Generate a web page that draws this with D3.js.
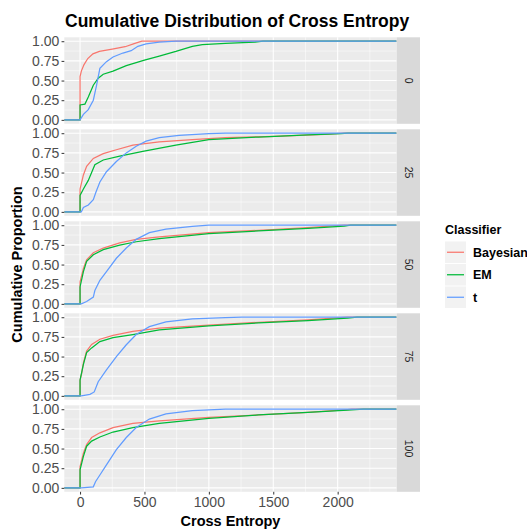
<!DOCTYPE html>
<meta charset="utf-8"/>
<head>
<style>
  body { margin:0; background:#fff; }
  text { font-family: "Liberation Sans", Arial, sans-serif; }
</style>
<script src="https://d3js.org/d3.v7.min.js" charset="utf-8"></script>
</head>
<body>
<script>

// facets (noise level) and classifiers
var facets = ["0", "25", "50", "75", "100"];
var classifiers = ["Bayesian", "EM", "t"];
var colors = ["#F8766D", "#00BA38", "#619CFF"];
var xTicks = [0, 500, 1000, 1500, 2000];
var yTicks = [0, 0.25, 0.5, 0.75, 1];
var xRange = [-5, 2341]; // data range of cross entropy

// ECDF curves, one list of [x, p] per facet
var bayesianCurves = [
  [[0,0],[0,0.55],[10,0.62],[30,0.7],[60,0.78],[100,0.84],[150,0.87],[250,0.9],[350,0.93],[420,0.97],[480,1]],
  [[0,0],[0,0.29],[26,0.47],[51,0.58],[103,0.68],[180,0.74],[282,0.79],[410,0.85],[615,0.89],[872,0.92],[1128,0.944],[1513,0.96],[1897,0.987],[2051,1]],
  [[0,0],[0,0.28],[26,0.45],[51,0.56],[103,0.65],[180,0.71],[308,0.776],[436,0.82],[615,0.853],[1000,0.905],[1385,0.935],[1769,0.97],[2051,1]],
  [[0,0],[0,0.2],[13,0.29],[26,0.42],[51,0.57],[90,0.655],[154,0.72],[256,0.77],[410,0.82],[615,0.86],[1000,0.9],[1385,0.935],[1769,0.966],[2077,1]],
  [[0,0],[0,0.27],[26,0.44],[51,0.55],[90,0.64],[154,0.7],[256,0.767],[410,0.82],[615,0.853],[1000,0.897],[1385,0.927],[1769,0.96],[2077,0.996],[2110,1]]
];
var emCurves = [
  [[0,0],[0,0.19],[38,0.2],[64,0.29],[103,0.44],[141,0.53],[180,0.58],[256,0.62],[359,0.69],[500,0.76],[615,0.81],[744,0.87],[872,0.935],[949,0.957],[1128,0.974],[1359,0.99],[1420,1]],
  [[0,0],[0,0.21],[26,0.29],[64,0.4],[115,0.6],[180,0.66],[308,0.71],[487,0.77],[744,0.85],[1000,0.92],[1385,0.952],[1769,0.978],[2026,0.996],[2080,1]],
  [[0,0],[0,0.215],[26,0.41],[51,0.54],[103,0.625],[180,0.69],[308,0.746],[436,0.79],[615,0.83],[1000,0.892],[1385,0.927],[1769,0.96],[2051,0.99],[2100,1]],
  [[0,0],[0,0.2],[26,0.4],[51,0.55],[90,0.61],[154,0.69],[256,0.74],[410,0.78],[615,0.84],[1000,0.89],[1385,0.927],[1769,0.957],[2077,0.99],[2150,1]],
  [[0,0],[0,0.23],[26,0.4],[51,0.53],[90,0.595],[154,0.647],[256,0.71],[410,0.767],[615,0.82],[1000,0.884],[1385,0.927],[1769,0.96],[2077,0.99],[2200,1]]
];
var tCurves = [
  [[0,0],[26,0.07],[64,0.13],[103,0.25],[128,0.44],[154,0.655],[205,0.74],[256,0.8],[333,0.85],[397,0.88],[449,0.935],[513,0.965],[615,0.99],[744,1]],
  [[10,0],[26,0.056],[64,0.087],[103,0.156],[123,0.25],[154,0.38],[205,0.51],[282,0.64],[359,0.75],[436,0.835],[513,0.9],[615,0.944],[769,0.974],[1000,0.996],[1128,1]],
  [[10,0],[51,0.03],[103,0.086],[115,0.17],[154,0.3],[205,0.41],[282,0.58],[359,0.71],[436,0.82],[538,0.905],[667,0.95],[872,0.987],[1000,1]],
  [[10,0],[77,0.02],[110,0.05],[141,0.18],[205,0.33],[282,0.5],[359,0.65],[436,0.78],[538,0.88],[667,0.94],[872,0.98],[1128,0.996],[1256,1]],
  [[10,0],[103,0.013],[120,0.078],[154,0.164],[205,0.293],[282,0.487],[359,0.64],[436,0.767],[538,0.875],[667,0.94],[872,0.983],[1128,1]]
];
var allCurves = [bayesianCurves, emCurves, tCurves];

var width = 527, height = 530;
var left = 64.3, right = 396.7, stripW = 23.3;
var top0 = 37.3, panelH = 86.5, gap = 5.5;

var svg = d3.select("body").append("svg")
  .attr("width", width)
  .attr("height", height);

var span = xRange[1] - xRange[0];
var x = d3.scaleLinear()
  .domain([xRange[0] - 0.05 * span, xRange[1] + 0.05 * span])
  .range([left, right]);

var line = d3.line()
  .x(function(d) { return x(d[0]); });

facets.forEach(function(f, i) {
  var top = top0 + i * (panelH + gap);
  var y = d3.scaleLinear().domain([-0.05, 1.05]).range([top + panelH, top]);
  line.y(function(d) { return y(d[1]); });

  var g = svg.append("g");
  g.append("rect")
    .attr("x", left).attr("y", top)
    .attr("width", right - left).attr("height", panelH)
    .attr("fill", "#EBEBEB");

  // minor grid
  [0.125, 0.375, 0.625, 0.875].forEach(function(v) {
    g.append("line").attr("x1", left).attr("x2", right)
      .attr("y1", y(v)).attr("y2", y(v))
      .attr("stroke", "#fff").attr("stroke-width", 0.53);
  });
  [250, 750, 1250, 1750, 2250].forEach(function(v) {
    g.append("line").attr("y1", top).attr("y2", top + panelH)
      .attr("x1", x(v)).attr("x2", x(v))
      .attr("stroke", "#fff").attr("stroke-width", 0.53);
  });
  // major grid
  yTicks.forEach(function(v) {
    g.append("line").attr("x1", left).attr("x2", right)
      .attr("y1", y(v)).attr("y2", y(v))
      .attr("stroke", "#fff").attr("stroke-width", 1.07);
  });
  xTicks.forEach(function(v) {
    g.append("line").attr("y1", top).attr("y2", top + panelH)
      .attr("x1", x(v)).attr("x2", x(v))
      .attr("stroke", "#fff").attr("stroke-width", 1.07);
  });

  var clipId = "clip" + i;
  svg.append("clipPath").attr("id", clipId).append("rect")
    .attr("x", left).attr("y", top).attr("width", right - left).attr("height", panelH);

  // ecdf lines, padded out to the panel edges
  allCurves.forEach(function(curves, c) {
    var pts = curves[i].slice();
    pts.unshift([x.domain()[0], 0]);
    pts.push([x.domain()[1], 1]);
    g.append("path")
      .attr("d", line(pts))
      .attr("clip-path", "url(#" + clipId + ")")
      .attr("fill", "none")
      .attr("stroke", colors[c])
      .attr("stroke-width", 1.25);
  });

  // y axis
  var ya = d3.axisLeft(y).tickValues(yTicks).tickFormat(d3.format(".2f")).tickSize(2.75).tickPadding(2.2);
  var ag = svg.append("g").attr("transform", "translate(" + left + ",0)").call(ya);
  ag.select(".domain").remove();
  ag.selectAll("line").attr("stroke", "#333");
  ag.selectAll("text").attr("fill", "#4D4D4D").style("font-size", "14px")
    .style("font-family", "Liberation Sans, Arial, sans-serif");

  // strip
  svg.append("rect")
    .attr("x", right).attr("y", top)
    .attr("width", stripW).attr("height", panelH)
    .attr("fill", "#D9D9D9");
  svg.append("text")
    .attr("transform", "translate(" + (right + stripW / 2) + "," + (top + panelH / 2) + ") rotate(90)")
    .attr("text-anchor", "middle")
    .attr("dy", "0.35em")
    .attr("fill", "#1A1A1A")
    .style("font-size", "10.5px")
    .text(f);

  if (i == facets.length - 1) {
    var xa = d3.axisBottom(x).tickValues(xTicks).tickFormat(d3.format("d")).tickSize(2.75).tickPadding(2.2);
    var bg = svg.append("g").attr("transform", "translate(0," + (top + panelH) + ")").call(xa);
    bg.select(".domain").remove();
    bg.selectAll("line").attr("stroke", "#333");
    bg.selectAll("text").attr("fill", "#4D4D4D").style("font-size", "14px")
      .style("font-family", "Liberation Sans, Arial, sans-serif");
  }
});

// titles
svg.append("text")
  .attr("x", 65).attr("y", 27)
  .style("font-size", "17.5px").style("font-weight", "bold")
  .text("Cumulative Distribution of Cross Entropy");

svg.append("text")
  .attr("x", (left + right) / 2).attr("y", 526)
  .attr("text-anchor", "middle")
  .style("font-size", "14.5px").style("font-weight", "bold")
  .text("Cross Entropy");

svg.append("text")
  .attr("transform", "translate(22," + (top0 + (5 * panelH + 4 * gap) / 2) + ") rotate(-90)")
  .attr("text-anchor", "middle")
  .style("font-size", "14.5px").style("font-weight", "bold")
  .text("Cumulative Proportion");

// legend
var lg = svg.append("g").attr("transform", "translate(445,0)");
lg.append("text").attr("x", 0).attr("y", 234)
  .style("font-size", "12.5px").style("font-weight", "bold")
  .text("Classifier");
classifiers.forEach(function(name, k) {
  var ky = 241.5 + k * 22.5;
  lg.append("rect").attr("x", 0).attr("y", ky).attr("width", 21).attr("height", 21.5)
    .attr("fill", "#F2F2F2");
  lg.append("line").attr("x1", 2).attr("x2", 19)
    .attr("y1", ky + 10.75).attr("y2", ky + 10.75)
    .attr("stroke", colors[k]).attr("stroke-width", 1.25);
  lg.append("text").attr("x", 28).attr("y", ky + 10.75).attr("dy", "0.35em")
    .style("font-size", "12.5px").style("font-weight", "bold")
    .text(name);
});

</script>
</body>
</html>
